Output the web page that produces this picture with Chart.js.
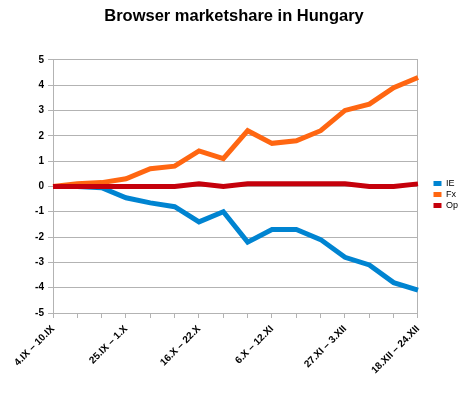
<!DOCTYPE html>
<html>
<head>
<meta charset="utf-8">
<script src="https://cdn.jsdelivr.net/npm/chart.js@4/dist/chart.umd.min.js"></script>
<style>
  html, body { margin: 0; padding: 0; background: #fff; }
  #wrap { width: 472px; height: 397px; }
</style>
</head>
<body>
<div id="wrap"><canvas id="chart" width="472" height="397"></canvas></div>
<script>
// semanas (a partir de 4.IX), só uma a cada três aparece no eixo
const weeks = [
  '4.IX – 10.IX', '11.IX – 17.IX', '18.IX – 24.IX',
  '25.IX – 1.X', '2.X – 8.X', '9.X – 15.X',
  '16.X – 22.X', '23.X – 29.X', '30.X – 5.XI',
  '6.X – 12.XI', '13.XI – 19.XI', '20.XI – 26.XI',
  '27.XI – 3.XII', '4.XII – 10.XII', '11.XII – 17.XII',
  '18.XII – 24.XII'
];
const ie = [0, 0, -0.05, -0.45, -0.65, -0.8, -1.4, -1.0, -2.2, -1.7, -1.7, -2.1, -2.8, -3.1, -3.8, -4.1];
const fx = [0, 0.1, 0.15, 0.3, 0.7, 0.8, 1.4, 1.1, 2.2, 1.7, 1.8, 2.2, 3.0, 3.25, 3.9, 4.3];
const op = [0, 0, 0, 0, 0, 0, 0.1, 0, 0.1, 0.1, 0.1, 0.1, 0.1, 0, 0, 0.1];
const yTicks = [5, 4, 3, 2, 1, 0, -1, -2, -3, -4, -5];

const gridColor = '#b3b3b3';
const font = 'Liberation Sans, Arial, sans-serif';

// sobe um pouco a legenda depois do layout
const nudgeLegend = {
  id: 'nudgeLegend',
  afterLayout: (chart) => {
    chart.legend.top -= 4;
    chart.legend.bottom -= 4;
  }
};

new Chart(document.getElementById('chart'), {
  type: 'line',
  data: {
    labels: weeks,
    datasets: [
      { label: 'IE', data: ie, borderColor: '#0084d1', backgroundColor: '#0084d1', order: 2 },
      { label: 'Fx', data: fx, borderColor: '#ff6611', backgroundColor: '#ff6611', order: 1 },
      { label: 'Op', data: op, borderColor: '#c5000b', backgroundColor: '#c5000b', order: 0 }
    ]
  },
  plugins: [nudgeLegend],
  options: {
    responsive: false,
    animation: false,
    layout: { padding: { left: 0, right: 4, top: 0, bottom: 0 } },
    elements: {
      line: { borderWidth: 5, tension: 0, fill: false },
      point: { radius: 0, hoverRadius: 0 }
    },
    plugins: {
      title: {
        display: true,
        text: 'Browser marketshare in Hungary',
        color: '#000',
        font: { family: font, size: 16.5, weight: 'bold' },
        padding: { top: 7, bottom: 33 }
      },
      legend: {
        position: 'right',
        labels: {
          boxWidth: 8,
          boxHeight: 5,
          padding: 2,
          color: '#000',
          font: { family: font, size: 9 },
          sort: (a, b) => a.datasetIndex - b.datasetIndex,
          // sem contorno nas caixinhas da legenda
          generateLabels: (chart) =>
            Chart.defaults.plugins.legend.labels.generateLabels(chart).map(l => ({ ...l, lineWidth: 0 }))
        }
      },
      tooltip: { enabled: false }
    },
    scales: {
      x: {
        grid: { drawOnChartArea: false, drawTicks: true, tickLength: 5, color: gridColor },
        border: { color: gridColor },
        ticks: {
          autoSkip: false,
          maxRotation: 45,
          minRotation: 45,
          padding: 5,
          color: '#000',
          font: { family: font, size: 10, weight: 'bold' },
          callback: function (v, i) { return i % 3 === 0 ? weeks[i] : ''; }
        },
        afterFit: (s) => { s.height = 84; }
      },
      y: {
        min: -5,
        max: 5,
        afterBuildTicks: (s) => { s.ticks = yTicks.map(v => ({ value: v })); },
        grid: { color: gridColor, tickLength: 5 },
        border: { color: gridColor },
        ticks: {
          padding: 4,
          color: '#000',
          font: { family: font, size: 10, weight: 'bold' }
        },
        afterFit: (s) => { s.width = 53; }
      },
      yRight: {
        position: 'right',
        min: -5,
        max: 5,
        grid: { drawOnChartArea: false, drawTicks: false },
        border: { color: gridColor },
        ticks: { display: false },
        afterFit: (s) => { s.width = 13.5; }
      }
    }
  }
});
</script>
</body>
</html>
